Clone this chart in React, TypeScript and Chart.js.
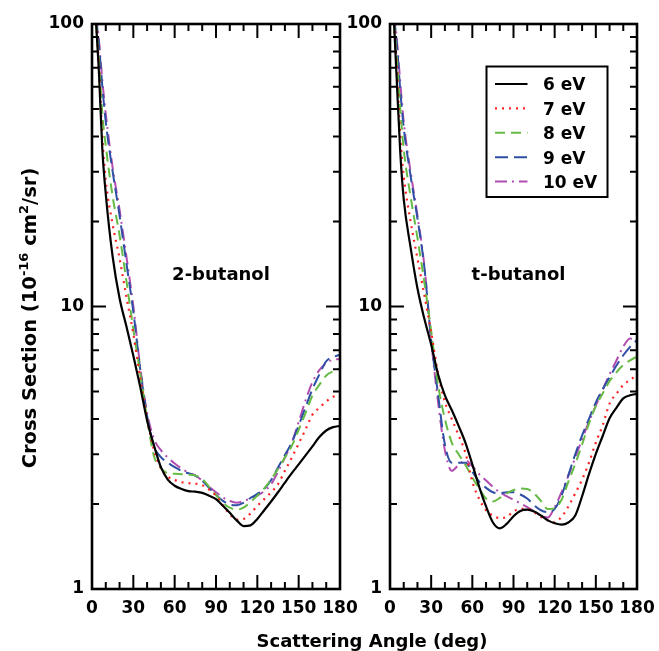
import React, { useEffect, useRef } from "react";
import { Chart, registerables } from "chart.js";

Chart.register(...registerables);

// ---------------- data ----------------
const ANGLES = [3, 5, 7.5, 10, 15, 20, 25, 30, 35, 40, 45, 50, 55, 60, 65, 70, 75, 80, 85, 90, 95, 100, 105, 110, 115, 120, 125, 130, 135, 140, 145, 150, 155, 160, 165, 170, 175, 180];
const ENERGY_LABELS = ["6 eV", "7 eV", "8 eV", "9 eV", "10 eV"];
const X_TICKS = [0, 30, 60, 90, 120, 150, 180];
const Y_TICKS = [1, 10, 100];
const PANEL_LABELS = ["2-butanol", "t-butanol"];
const X_TITLE = "Scattering Angle (deg)";
const Y_TITLE_PARTS = [
  { text: "Cross Section (10", sup: false },
  { text: "-16", sup: true },
  { text: " cm", sup: false },
  { text: "2", sup: true },
  { text: "/sr)", sup: false },
];

// 2-butanol
const BUT2_6EV = [100, 68, 36, 25, 15, 10.7, 8.5, 6.7, 5.2, 3.95, 3.22, 2.7, 2.44, 2.32, 2.26, 2.22, 2.21, 2.19, 2.14, 2.08, 1.97, 1.86, 1.75, 1.67, 1.68, 1.77, 1.9, 2.04, 2.2, 2.38, 2.57, 2.76, 2.97, 3.2, 3.45, 3.64, 3.74, 3.78];
const BUT2_7EV = [100, 72, 40, 28, 19.5, 14.8, 10.8, 8.0, 5.6, 4.0, 3.1, 2.68, 2.5, 2.43, 2.39, 2.37, 2.36, 2.33, 2.25, 2.14, 1.98, 1.84, 1.76, 1.77, 1.85, 1.97, 2.08, 2.2, 2.35, 2.62, 2.92, 3.27, 3.67, 4.14, 4.38, 4.61, 4.79, 4.87];
const BUT2_8EV = [100, 75, 48, 37, 24.5, 17.9, 12.3, 8.3, 5.8, 4.0, 2.95, 2.68, 2.57, 2.56, 2.55, 2.54, 2.52, 2.45, 2.3, 2.15, 2.02, 1.94, 1.91, 1.94, 2.03, 2.14, 2.27, 2.44, 2.66, 2.92, 3.21, 3.66, 4.2, 4.84, 5.28, 5.7, 5.9, 6.05];
const BUT2_9EV = [105, 85, 60, 45, 30, 21, 14.2, 9.6, 6.0, 4.1, 3.2, 2.93, 2.8, 2.7, 2.62, 2.57, 2.52, 2.42, 2.28, 2.15, 2.05, 1.99, 1.98, 2.02, 2.1, 2.17, 2.26, 2.43, 2.69, 2.98, 3.3, 3.79, 4.4, 5.1, 5.74, 6.4, 6.62, 6.75];
const BUT2_10EV = [108, 88, 63, 48, 31, 22, 15, 10, 6.1, 4.2, 3.4, 3.1, 2.92, 2.78, 2.67, 2.58, 2.52, 2.42, 2.3, 2.2, 2.11, 2.05, 2.02, 2.05, 2.09, 2.14, 2.22, 2.35, 2.6, 2.92, 3.3, 3.9, 4.65, 5.4, 5.95, 6.3, 6.48, 6.51];

// t-butanol
const TBUT_6EV = [100, 62, 35, 24, 16.2, 11.6, 9.06, 7.33, 5.76, 4.85, 4.3, 3.78, 3.29, 2.76, 2.3, 1.96, 1.72, 1.64, 1.7, 1.81, 1.89, 1.91, 1.88, 1.82, 1.75, 1.71, 1.69, 1.72, 1.82, 2.13, 2.55, 3.01, 3.48, 4.02, 4.38, 4.73, 4.85, 4.91];
const TBUT_7EV = [100, 70, 40, 29, 20, 14.8, 11.0, 8.1, 5.8, 4.6, 4.0, 3.5, 3.03, 2.4, 2.08, 1.9, 1.82, 1.78, 1.8, 1.88, 1.92, 1.92, 1.87, 1.8, 1.75, 1.72, 1.8, 1.96, 2.18, 2.44, 2.8, 3.3, 3.8, 4.53, 4.91, 5.27, 5.5, 5.73];
const TBUT_8EV = [100, 75, 50, 36, 24.5, 17.5, 12.2, 8.2, 5.3, 4.0, 3.3, 3.0, 2.75, 2.48, 2.27, 2.09, 2.04, 2.1, 2.18, 2.24, 2.27, 2.26, 2.18, 2.05, 1.92, 1.93, 2.07, 2.4, 2.77, 3.25, 3.85, 4.45, 4.92, 5.44, 5.85, 6.2, 6.45, 6.65];
const TBUT_9EV = [105, 85, 58, 43, 29, 20.5, 13.8, 7.6, 4.9, 3.25, 2.8, 2.8, 2.8, 2.6, 2.4, 2.28, 2.2, 2.18, 2.2, 2.2, 2.16, 2.09, 1.98, 1.9, 1.87, 1.92, 2.14, 2.53, 3.0, 3.5, 4.0, 4.58, 5.09, 5.62, 6.18, 6.72, 7.2, 7.62];
const TBUT_10EV = [108, 88, 62, 45, 30, 21, 14, 7.6, 4.6, 3.1, 2.62, 2.75, 2.85, 2.72, 2.55, 2.42, 2.3, 2.2, 2.13, 2.07, 2.01, 1.95, 1.88, 1.82, 1.79, 1.95, 2.2, 2.52, 2.92, 3.39, 3.91, 4.46, 5.08, 5.75, 6.44, 7.21, 7.7, 7.52];

const BUT2_SERIES = [BUT2_6EV, BUT2_7EV, BUT2_8EV, BUT2_9EV, BUT2_10EV];
const TBUT_SERIES = [TBUT_6EV, TBUT_7EV, TBUT_8EV, TBUT_9EV, TBUT_10EV];

// ---------------- styles ----------------
const LINE_STYLES = [
  { color: "#000000", dash: [] as number[], width: 2.2 },
  { color: "#ff2222", dash: [2, 5], width: 2.2 },
  { color: "#66bb44", dash: [10, 6], width: 2 },
  { color: "#2e4fa3", dash: [13, 6], width: 2 },
  { color: "#b04db0", dash: [12, 5, 2, 5], width: 2 },
];
const FONT = "'DejaVu Sans', 'Liberation Sans', sans-serif";
const W = 659;
const H = 651;

type PanelCfg = {
  label: string;
  series: number[][];
  padding: { left: number; right: number; top: number; bottom: number };
  legend: boolean;
  titles: boolean;
};

function decorPlugin(cfg: PanelCfg) {
  return {
    id: "decor",
    afterDraw(chart: any) {
      const { ctx, chartArea: a, scales } = chart;
      const xs = scales.x;
      const ys = scales.y;
      ctx.save();
      ctx.strokeStyle = "#000";
      ctx.lineCap = "butt";
      ctx.setLineDash([]);
      // x ticks (inward, bottom and top)
      ctx.lineWidth = 2;
      ctx.beginPath();
      for (let v = xs.min; v <= xs.max; v += 10) {
        const px = xs.getPixelForValue(v);
        const len = v % 30 === 0 ? 14 : 7;
        ctx.moveTo(px, a.bottom);
        ctx.lineTo(px, a.bottom - len);
        ctx.moveTo(px, a.top);
        ctx.lineTo(px, a.top + len);
      }
      // y ticks (inward, left and right)
      for (let d = ys.min; d < ys.max; d *= 10) {
        for (let m = 1; m < 10; m++) {
          const py = ys.getPixelForValue(d * m);
          const len = m === 1 ? 14 : 7;
          ctx.moveTo(a.left, py);
          ctx.lineTo(a.left + len, py);
          ctx.moveTo(a.right, py);
          ctx.lineTo(a.right - len, py);
        }
      }
      ctx.stroke();
      // frame
      ctx.lineWidth = 2.6;
      ctx.strokeRect(a.left, a.top, a.right - a.left, a.bottom - a.top);

      // panel label
      ctx.fillStyle = "#000";
      ctx.font = `bold 18px ${FONT}`;
      ctx.textAlign = "center";
      ctx.textBaseline = "alphabetic";
      ctx.fillText(cfg.label, (a.left + a.right) / 2 + 5, 280);

      // legend
      if (cfg.legend) {
        const bx = a.left + 96.5;
        const by = a.top + 42.5;
        const bw = 121;
        const bh = 130.5;
        ctx.lineWidth = 2;
        ctx.strokeRect(bx, by, bw, bh);
        ctx.font = `bold 17px ${FONT}`;
        ctx.textAlign = "left";
        chart.data.datasets.forEach((ds: any, i: number) => {
          const cy = by + 17.5 + i * 24.4;
          ctx.save();
          ctx.strokeStyle = ds.borderColor;
          ctx.lineWidth = ds.borderWidth;
          ctx.setLineDash(ds.borderDash || []);
          ctx.beginPath();
          ctx.moveTo(bx + 8.5, cy);
          ctx.lineTo(bx + 41, cy);
          ctx.stroke();
          ctx.restore();
          ctx.fillStyle = "#000";
          ctx.fillText(ds.label, bx + 56.5, cy + 6.3);
        });
      }

      // axis titles
      if (cfg.titles) {
        ctx.fillStyle = "#000";
        ctx.font = `bold 18px ${FONT}`;
        ctx.textAlign = "center";
        ctx.fillText(X_TITLE, 372, 646.5);

        // rotated y title with superscripts
        const mainFont = `bold 19.5px ${FONT}`;
        const supFont = `bold 13px ${FONT}`;
        let total = 0;
        const widths = Y_TITLE_PARTS.map((p) => {
          ctx.font = p.sup ? supFont : mainFont;
          const w = ctx.measureText(p.text).width;
          total += w;
          return w;
        });
        ctx.save();
        ctx.translate(29, 318);
        ctx.rotate(-Math.PI / 2);
        ctx.textAlign = "left";
        let x = -total / 2;
        Y_TITLE_PARTS.forEach((p, i) => {
          ctx.font = p.sup ? supFont : mainFont;
          ctx.fillText(p.text, x, p.sup ? -1.5 : 7);
          x += widths[i];
        });
        ctx.restore();
      }
      ctx.restore();
    },
  };
}

function buildChart(canvas: HTMLCanvasElement, cfg: PanelCfg) {
  const tickFont = { family: FONT, size: 17, weight: "bold" as const };
  return new Chart(canvas, {
    type: "line",
    data: {
      datasets: cfg.series.map((vals, i) => ({
        label: ENERGY_LABELS[i],
        data: ANGLES.map((ang, j) => ({ x: ang, y: vals[j] })),
        borderColor: LINE_STYLES[i].color,
        borderDash: LINE_STYLES[i].dash,
        borderWidth: LINE_STYLES[i].width,
        pointRadius: 0,
        fill: false,
        cubicInterpolationMode: "monotone" as const,
      })),
    },
    options: {
      responsive: false,
      animation: false,
      devicePixelRatio: 1,
      layout: { padding: cfg.padding },
      plugins: { legend: { display: false }, tooltip: { enabled: false } },
      scales: {
        x: {
          type: "linear",
          min: 0,
          max: 180,
          grid: { display: false, drawTicks: false },
          border: { display: false },
          afterBuildTicks: (s: any) => {
            s.ticks = X_TICKS.map((v) => ({ value: v }));
          },
          afterFit: (s: any) => {
            s.height = 40;
            s.paddingLeft = 0;
            s.paddingRight = 0;
          },
          ticks: {
            font: tickFont,
            color: "#000",
            padding: 9,
            maxRotation: 0,
            autoSkip: false,
            callback: (v: any) => String(v),
          },
        },
        y: {
          type: "logarithmic",
          min: 1,
          max: 100,
          grid: { display: false, drawTicks: false },
          border: { display: false },
          afterBuildTicks: (s: any) => {
            s.ticks = Y_TICKS.map((v) => ({ value: v }));
          },
          afterFit: (s: any) => {
            s.width = 92;
            s.paddingTop = 0;
            s.paddingBottom = 0;
          },
          ticks: {
            font: tickFont,
            color: "#000",
            padding: 8,
            autoSkip: false,
            callback: (v: any) => String(v),
          },
        },
      },
    },
    plugins: [decorPlugin(cfg)],
  } as any);
}

export default function App() {
  const leftRef = useRef<HTMLCanvasElement>(null);
  const rightRef = useRef<HTMLCanvasElement>(null);

  useEffect(() => {
    const left = buildChart(leftRef.current!, {
      label: PANEL_LABELS[0],
      series: BUT2_SERIES,
      padding: { left: 0, right: 319, top: 24, bottom: 22 },
      legend: false,
      titles: true,
    });
    const right = buildChart(rightRef.current!, {
      label: PANEL_LABELS[1],
      series: TBUT_SERIES,
      padding: { left: 298, right: 22, top: 24, bottom: 22 },
      legend: true,
      titles: false,
    });
    return () => {
      left.destroy();
      right.destroy();
    };
  }, []);

  const canvasStyle: React.CSSProperties = { position: "absolute", left: 0, top: 0, display: "block" };
  return (
    <div style={{ position: "absolute", left: 0, top: 0, width: W, height: H, background: "#fff" }}>
      <canvas ref={leftRef} width={W} height={H} style={canvasStyle} />
      <canvas ref={rightRef} width={W} height={H} style={canvasStyle} />
    </div>
  );
}
